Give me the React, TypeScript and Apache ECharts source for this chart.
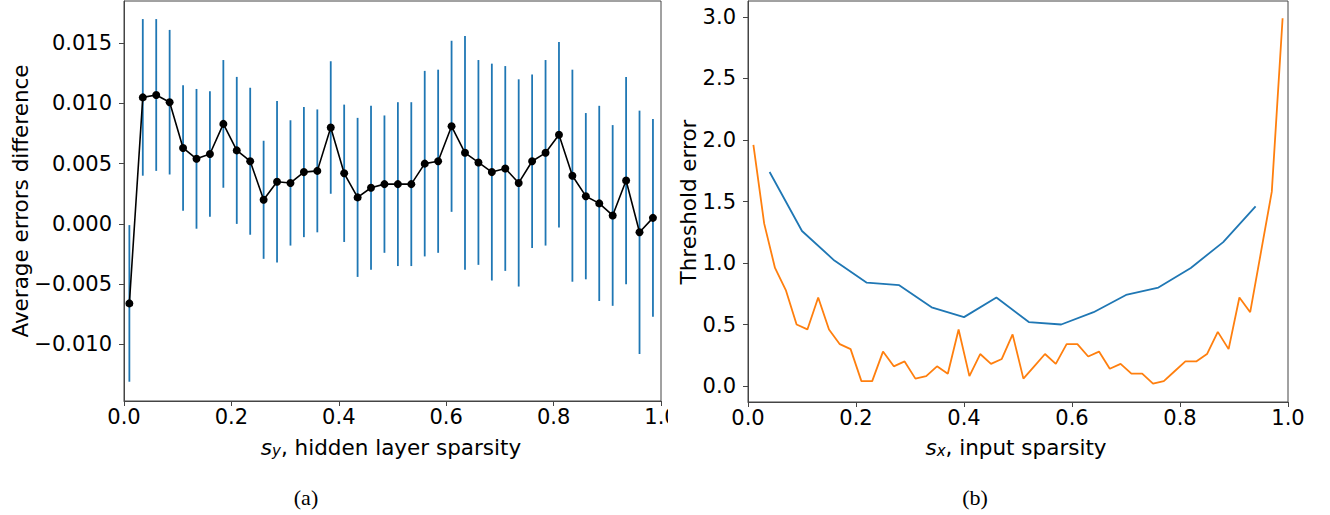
import React, { useEffect, useRef } from "react";
import * as echarts from "echarts";

// ---- Panel (a): average errors difference vs hidden layer sparsity ----
const hiddenSparsity = [
  0.01, 0.035, 0.06, 0.085, 0.11, 0.135, 0.16, 0.185, 0.21, 0.235,
  0.26, 0.285, 0.31, 0.335, 0.36, 0.385, 0.41, 0.435, 0.46, 0.485,
  0.51, 0.535, 0.56, 0.585, 0.61, 0.635, 0.66, 0.685, 0.71, 0.735,
  0.76, 0.785, 0.81, 0.835, 0.86, 0.885, 0.91, 0.935, 0.96, 0.985,
];
const avgDiff = [
  -0.0066, 0.0105, 0.0107, 0.0101, 0.0063, 0.0054, 0.0058, 0.0083, 0.0061, 0.0052,
  0.0020, 0.0035, 0.0034, 0.0043, 0.0044, 0.0080, 0.0042, 0.0022, 0.0030, 0.0033,
  0.0033, 0.0033, 0.0050, 0.0052, 0.0081, 0.0059, 0.0051, 0.0043, 0.0046, 0.0034,
  0.0052, 0.0059, 0.0074, 0.0040, 0.0023, 0.0017, 0.0007, 0.0036, -0.0007, 0.0005,
];
const avgErr = [
  0.0065, 0.0065, 0.0063, 0.0060, 0.0052, 0.0058, 0.0052, 0.0053, 0.0061, 0.0061,
  0.0049, 0.0067, 0.0052, 0.0054, 0.0051, 0.0055, 0.0057, 0.0066, 0.0068, 0.0057,
  0.0068, 0.0068, 0.0077, 0.0076, 0.0071, 0.0097, 0.0085, 0.0090, 0.0085, 0.0086,
  0.0072, 0.0077, 0.0077, 0.0088, 0.0069, 0.0081, 0.0075, 0.0086, 0.0101, 0.0082,
];
const leftYTicks = [-0.01, -0.005, 0, 0.005, 0.01, 0.015];

// ---- Panel (b): threshold error vs input sparsity ----
const inputSparsityBlue = [
  0.04, 0.10, 0.16, 0.22, 0.28, 0.34, 0.40, 0.46, 0.52, 0.58, 0.64, 0.70, 0.76, 0.82, 0.88, 0.94,
];
const thresholdBlue = [
  1.74, 1.26, 1.02, 0.84, 0.82, 0.64, 0.56, 0.72, 0.52, 0.50, 0.60, 0.74, 0.80, 0.96, 1.17, 1.46,
];
const inputSparsityOrange = [
  0.01, 0.03, 0.05, 0.07, 0.09, 0.11, 0.13, 0.15, 0.17, 0.19,
  0.21, 0.23, 0.25, 0.27, 0.29, 0.31, 0.33, 0.35, 0.37, 0.39,
  0.41, 0.43, 0.45, 0.47, 0.49, 0.51, 0.53, 0.55, 0.57, 0.59,
  0.61, 0.63, 0.65, 0.67, 0.69, 0.71, 0.73, 0.75, 0.77, 0.79,
  0.81, 0.83, 0.85, 0.87, 0.89, 0.91, 0.93, 0.95, 0.97, 0.99,
];
const thresholdOrange = [
  1.96, 1.32, 0.96, 0.78, 0.50, 0.46, 0.72, 0.46, 0.34, 0.30,
  0.04, 0.04, 0.28, 0.16, 0.20, 0.06, 0.08, 0.16, 0.10, 0.46,
  0.08, 0.26, 0.18, 0.22, 0.42, 0.06, 0.16, 0.26, 0.18, 0.34,
  0.34, 0.24, 0.28, 0.14, 0.18, 0.10, 0.10, 0.02, 0.04, 0.12,
  0.20, 0.20, 0.26, 0.44, 0.30, 0.72, 0.60, 1.09, 1.58, 2.99,
];
const rightYTicks = [0, 0.5, 1.0, 1.5, 2.0, 2.5, 3.0];

const FONT = "DejaVu Sans";
const FRAME = "#444";
const TEXT = "#000";
const TICK_FS = 21;

function fmtSigned(v: number, d: number): string {
  const s = Math.abs(v).toFixed(d);
  return (v < -1e-12 ? "\u2212" : "") + s;
}

export default function App() {
  const ref = useRef<HTMLDivElement>(null);

  useEffect(() => {
    if (!ref.current) return;
    const chart = echarts.init(ref.current, undefined, { renderer: "svg" });

    const xAxisCommon = (gridIndex: number) => ({
      type: "value" as const,
      gridIndex,
      min: 0,
      max: 1,
      interval: 0.2,
      splitLine: { show: false },
      axisLine: { show: true, onZero: false, lineStyle: { color: FRAME, width: 1 } },
      axisTick: { show: true, inside: false, length: 5, lineStyle: { color: FRAME } },
      axisLabel: {
        color: TEXT,
        fontSize: TICK_FS,
        fontFamily: FONT,
        margin: 5,
        formatter: (v: number) => v.toFixed(1),
      },
    });

    const yAxisCommon = (gridIndex: number, min: number, max: number, ticks: number[], d: number) => ({
      type: "value" as const,
      gridIndex,
      min,
      max,
      splitLine: { show: false },
      axisLine: { show: true, onZero: false, lineStyle: { color: FRAME, width: 1 } },
      axisTick: { show: true, inside: false, length: 5, lineStyle: { color: FRAME }, customValues: ticks },
      axisLabel: {
        color: TEXT,
        fontSize: TICK_FS,
        fontFamily: FONT,
        margin: 12,
        customValues: ticks,
        formatter: (v: number) => fmtSigned(v, d),
      },
    });

    const subTitle = (sub: string, rest: string) => ({
      text: `{i|s}{sub|${sub}}{n|, ${rest}}`,
      rich: {
        i: { fontSize: 21.5, fontFamily: FONT, fontStyle: "italic", fill: TEXT, lineHeight: 24, verticalAlign: "bottom" },
        sub: { fontSize: 15, fontFamily: FONT, fontStyle: "italic", fill: TEXT, lineHeight: 10, verticalAlign: "bottom" },
        n: { fontSize: 21.5, fontFamily: FONT, fill: TEXT, lineHeight: 24, verticalAlign: "bottom" },
      },
      textAlign: "center",
      textVerticalAlign: "middle",
    });

    const option: any = {
      animation: false,
      backgroundColor: "#fff",
      grid: [
        { left: 124, top: 1, width: 537, height: 400, show: true, borderColor: FRAME, borderWidth: 1, backgroundColor: "transparent" },
        { left: 748, top: 1, width: 540, height: 401, show: true, borderColor: FRAME, borderWidth: 1, backgroundColor: "transparent" },
      ],
      xAxis: [xAxisCommon(0), xAxisCommon(1)],
      yAxis: [
        yAxisCommon(0, -0.0147, 0.0185, leftYTicks, 3),
        yAxisCommon(1, -0.13, 3.13, rightYTicks, 1),
      ],
      series: [
        {
          type: "custom",
          xAxisIndex: 0,
          yAxisIndex: 0,
          z: 2,
          data: hiddenSparsity.map((x, i) => [x, avgDiff[i] - avgErr[i], avgDiff[i] + avgErr[i]]),
          encode: { x: 0, y: [1, 2] },
          renderItem: (params: any, api: any) => {
            const p1 = api.coord([api.value(0), api.value(1)]);
            const p2 = api.coord([api.value(0), api.value(2)]);
            return {
              type: "line",
              shape: { x1: p1[0], y1: p1[1], x2: p2[0], y2: p2[1] },
              style: { stroke: "#1f77b4", lineWidth: 1.8 },
            };
          },
        },
        {
          type: "line",
          xAxisIndex: 0,
          yAxisIndex: 0,
          z: 3,
          data: hiddenSparsity.map((x, i) => [x, avgDiff[i]]),
          symbol: "circle",
          symbolSize: 8,
          showSymbol: true,
          lineStyle: { color: "#000", width: 1.6 },
          itemStyle: { color: "#000" },
        },
        {
          type: "line",
          xAxisIndex: 1,
          yAxisIndex: 1,
          data: inputSparsityBlue.map((x, i) => [x, thresholdBlue[i]]),
          symbol: "none",
          lineStyle: { color: "#1f77b4", width: 1.8 },
        },
        {
          type: "line",
          xAxisIndex: 1,
          yAxisIndex: 1,
          data: inputSparsityOrange.map((x, i) => [x, thresholdOrange[i]]),
          symbol: "none",
          lineStyle: { color: "#ff7f0e", width: 1.8 },
        },
      ],
      graphic: [
        { type: "rect", z: 100, shape: { x: 668, y: 403, width: 9, height: 30 }, style: { fill: "#fff" } },
        {
          type: "text",
          x: 20,
          y: 201,
          rotation: Math.PI / 2,
          style: { text: "Average errors difference", fontSize: 21.5, fontFamily: FONT, fill: TEXT, textAlign: "center", textVerticalAlign: "middle" },
        },
        {
          type: "text",
          x: 688,
          y: 202,
          rotation: Math.PI / 2,
          style: { text: "Threshold error", fontSize: 21.5, fontFamily: FONT, fill: TEXT, textAlign: "center", textVerticalAlign: "middle" },
        },
        { type: "text", x: 391, y: 446, style: subTitle("y", "hidden layer sparsity") },
        { type: "text", x: 1016, y: 446, style: subTitle("x", "input sparsity") },
        {
          type: "text",
          x: 306,
          y: 497,
          style: { text: "(a)", fontSize: 22, fontFamily: "Liberation Serif", fill: TEXT, textAlign: "center", textVerticalAlign: "middle" },
        },
        {
          type: "text",
          x: 975,
          y: 497,
          style: { text: "(b)", fontSize: 22, fontFamily: "Liberation Serif", fill: TEXT, textAlign: "center", textVerticalAlign: "middle" },
        },
      ],
    };

    chart.setOption(option);
    return () => chart.dispose();
  }, []);

  return (
    <div
      ref={ref}
      style={{ position: "fixed", left: 0, top: 0, width: 1330, height: 515, background: "#fff" }}
    />
  );
}
